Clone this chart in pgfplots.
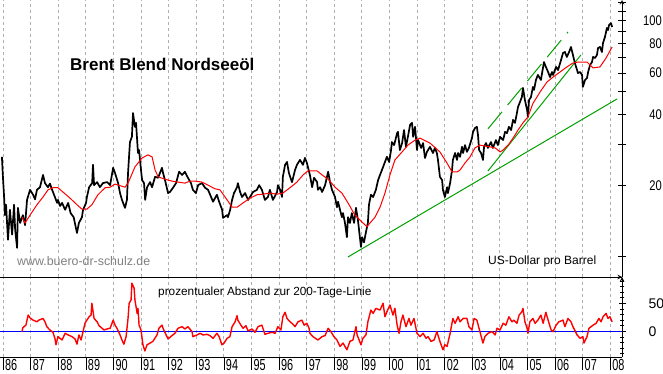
\documentclass[border=0pt]{standalone}
\usepackage{fontspec}
\setmainfont{Liberation Sans}
\usepackage{graphicx}
\usepackage{pgfplots}
\pgfplotsset{compat=1.18}
\definecolor{trendgreen}{RGB}{0,160,0}
\definecolor{gridgray}{RGB}{175,175,175}
\newcommand{\nar}[1]{\mbox{\scalebox{0.8}[1]{\fontsize{14pt}{14pt}\selectfont #1}}}
\newcommand{\nub}[1]{\mbox{\fontsize{14pt}{14pt}\selectfont #1}}
\newcommand{\xl}[1]{\mbox{\rule{0.9pt}{13pt}\hspace{1.5pt}\scalebox{0.68}[1]{\fontsize{16pt}{16pt}\selectfont #1}}}
\pgfplotsset{
  chartx/.style={scale only axis, width=622pt, xmin=1985.891, xmax=2008.428,
    xtick={1986,1987,1988,1989,1990,1991,1992,1993,1994,1995,1996,1997,1998,1999,2000,2001,2002,2003,2004,2005,2006,2007,2008},
    xmajorgrids, x grid style={gridgray, dash pattern=on 3pt off 3pt, line width=0.8pt},
    tick style={black, line width=0.8pt}, xtick style={draw=none}, tick align=outside,
    axis line style={-, line width=1pt}, anchor=south west},
}
\begin{document}
\begin{tikzpicture}
\useasboundingbox (0,0) rectangle (663pt,373pt);
\fill[white] (0,0) rectangle (663pt,373pt);
\begin{axis}[chartx, at={(0pt,96pt)}, height=277pt, ymode=log, ymin=8.2, ymax=122.4,
  axis x line=bottom, axis y line=right, xticklabels={},
  ytick={10,20,30,40,50,60,70,80,90,100,110,120},
  yticklabels={,\nar{20},,\nar{40},,\nar{60},,\nar{80},,\nar{100},,},
  minor ytick={}, major tick length=8pt,
  yticklabel style={anchor=east, inner sep=0pt, xshift=36pt}]
\addplot[trendgreen, line width=1pt, mark=none] coordinates {(1998.50,9.97) (2008.25,46.6)};
\addplot[trendgreen, line width=1pt, mark=none] coordinates {(2003.57,23.07) (2006.94,71.6)};
\addplot[trendgreen, line width=1pt, mark=none, dash pattern=on 22pt off 9pt] coordinates {(2003.57,34.8) (2006.47,89.6)};
\addplot[black, line width=1.7pt, mark=none, line join=round] coordinates {
(1985.96,26.5) (1986.00,21.5) (1986.04,17.9) (1986.07,15.0) (1986.11,16.6) (1986.18,11.8) (1986.25,15.8) (1986.33,12.4) (1986.40,16.6) (1986.44,13.0) (1986.51,10.9) (1986.54,16.1) (1986.62,13.9) (1986.72,15.0) (1986.80,13.6) (1986.87,17.4) (1986.98,19.2)
(1987.09,18.3) (1987.16,17.5) (1987.23,19.2) (1987.34,19.7) (1987.45,22.2) (1987.52,20.5) (1987.63,19.7) (1987.70,20.4) (1987.78,19.2) (1987.88,17.9) (1987.96,16.9) (1987.99,17.4)
(1988.07,16.4) (1988.14,16.9) (1988.25,15.8) (1988.36,16.9) (1988.45,15.3) (1988.56,14.7) (1988.68,12.6) (1988.75,13.9) (1988.86,14.7) (1988.90,15.8)
(1989.01,16.9) (1989.04,17.9) (1989.12,19.7) (1989.23,20.5) (1989.26,24.5) (1989.30,20.1) (1989.41,20.7) (1989.51,19.7) (1989.62,20.5) (1989.77,20.7) (1989.88,20.1)
(1989.99,23.8) (1990.06,22.6) (1990.17,20.5) (1990.24,18.6) (1990.31,17.4) (1990.42,16.1) (1990.49,17.4) (1990.53,22.6) (1990.60,30.6) (1990.67,32.2) (1990.71,40.6) (1990.78,35.5) (1990.82,36.9) (1990.89,27.5) (1990.93,28.3)
(1991.00,23.3) (1991.04,21.1) (1991.11,20.5) (1991.15,17.4) (1991.22,19.7) (1991.33,20.7) (1991.40,19.7) (1991.51,21.8) (1991.62,21.6) (1991.76,23.8) (1991.80,22.6) (1991.87,21.1) (1991.98,18.6)
(1992.05,18.8) (1992.16,19.6) (1992.27,20.5) (1992.38,22.9) (1992.49,22.2) (1992.59,22.9) (1992.70,21.6) (1992.81,20.5) (1992.88,19.2) (1992.99,18.6)
(1993.07,20.1) (1993.21,20.5) (1993.32,19.6) (1993.43,19.2) (1993.54,17.9) (1993.61,17.1) (1993.75,18.3) (1993.83,17.1) (1993.94,15.8) (1993.97,14.6)
(1994.12,15.0) (1994.15,14.7) (1994.23,15.8) (1994.30,17.4) (1994.37,18.6) (1994.48,19.7) (1994.51,20.5) (1994.59,18.8) (1994.66,17.9) (1994.77,18.6) (1994.88,17.4) (1994.95,17.9)
(1995.06,18.8) (1995.20,19.2) (1995.28,20.1) (1995.38,19.2) (1995.49,17.4) (1995.60,17.9) (1995.67,19.2) (1995.78,17.4) (1995.93,18.8) (1995.96,20.1)
(1996.04,19.2) (1996.11,17.9) (1996.14,21.8) (1996.22,24.5) (1996.29,25.2) (1996.36,22.6) (1996.47,20.7) (1996.58,23.3) (1996.65,24.5) (1996.76,25.7) (1996.87,24.5) (1996.94,26.2)
(1997.01,25.0) (1997.12,22.2) (1997.20,19.7) (1997.27,21.6) (1997.38,20.7) (1997.41,19.2) (1997.49,19.7) (1997.56,18.8) (1997.67,20.1) (1997.78,22.9) (1997.85,20.7) (1997.92,19.2)
(1998.03,17.9) (1998.10,16.2) (1998.14,17.1) (1998.21,15.8) (1998.28,14.7) (1998.32,15.3) (1998.39,13.9) (1998.46,12.1) (1998.50,14.7) (1998.57,13.9) (1998.64,15.3) (1998.72,13.9) (1998.79,16.1) (1998.86,14.3) (1998.90,13.0) (1998.97,11.0)
(1999.01,12.1) (1999.08,11.5) (1999.15,12.7) (1999.22,13.9) (1999.26,16.6) (1999.33,18.3) (1999.41,17.9) (1999.51,19.2) (1999.59,21.1) (1999.66,22.2) (1999.73,23.3) (1999.80,24.5) (1999.91,26.5) (1999.99,25.2)
(2000.06,28.3) (2000.09,30.6) (2000.17,29.7) (2000.28,33.4) (2000.31,33.8) (2000.38,28.3) (2000.46,30.3) (2000.53,34.4) (2000.60,29.2) (2000.67,32.2) (2000.75,36.2) (2000.82,36.9) (2000.86,32.2) (2000.93,35.5)
(2001.00,28.3) (2001.04,31.2) (2001.15,28.9) (2001.22,30.3) (2001.29,26.2) (2001.36,27.8) (2001.47,29.2) (2001.58,27.5) (2001.65,28.9) (2001.72,27.5) (2001.76,25.7) (2001.83,21.8) (2001.91,21.1) (2001.94,19.2)
(2002.01,17.9) (2002.09,19.7) (2002.12,18.6) (2002.20,20.5) (2002.27,23.3) (2002.30,25.7) (2002.38,27.5) (2002.45,25.7) (2002.49,27.5) (2002.56,26.5) (2002.63,29.2) (2002.67,27.5) (2002.74,29.7) (2002.81,27.8) (2002.88,28.9) (2002.99,31.8)
(2003.03,33.8) (2003.10,35.1) (2003.17,35.5) (2003.21,32.8) (2003.25,28.3) (2003.32,27.5) (2003.39,25.7) (2003.43,29.2) (2003.50,30.3) (2003.57,28.9) (2003.68,30.6) (2003.75,28.9) (2003.86,31.2) (2003.93,29.7)
(2004.01,32.2) (2004.12,31.2) (2004.19,33.8) (2004.26,33.4) (2004.33,35.5) (2004.41,34.4) (2004.48,38.0) (2004.55,36.9) (2004.62,40.6) (2004.66,43.1) (2004.73,45.2) (2004.80,47.5) (2004.84,51.9) (2004.91,46.1) (2004.99,41.8)
(2005.02,39.1) (2005.06,46.1) (2005.13,47.5) (2005.20,52.4) (2005.24,50.9) (2005.31,56.1) (2005.38,58.9) (2005.49,56.1) (2005.57,63.7) (2005.60,66.8) (2005.67,63.7) (2005.75,60.6) (2005.82,57.7) (2005.89,60.6) (2005.93,58.9)
(2006.04,63.7) (2006.11,61.8) (2006.22,68.2) (2006.29,73.0) (2006.36,73.7) (2006.43,70.2) (2006.51,73.7) (2006.58,77.4) (2006.65,71.6) (2006.72,66.2) (2006.80,61.8) (2006.83,60.0) (2006.91,60.6) (2006.98,58.9)
(2007.01,52.4) (2007.09,56.1) (2007.16,57.2) (2007.20,60.6) (2007.27,64.9) (2007.34,66.8) (2007.38,70.2) (2007.45,69.5) (2007.52,71.6) (2007.56,76.6) (2007.63,77.4) (2007.70,73.7) (2007.74,80.5) (2007.81,85.3) (2007.85,89.6) (2007.88,93.1) (2007.92,91.3) (2007.96,95.9)
(2008.03,97.7) (2008.07,94.0)
};
\addplot[red, line width=1pt, mark=none] coordinates {
(1986.69,14.7) (1986.80,13.9) (1986.98,15.0) (1987.23,16.6) (1987.45,17.9) (1987.63,19.2) (1987.81,19.6) (1987.99,19.6) (1988.17,18.8) (1988.43,17.7) (1988.68,16.6) (1988.86,15.9) (1989.04,15.9) (1989.22,16.6) (1989.44,18.3) (1989.70,19.6) (1989.88,19.7) (1990.06,20.3) (1990.42,19.7) (1990.53,20.5) (1990.78,24.0) (1991.04,26.2) (1991.25,27.0) (1991.40,26.5) (1991.51,23.3) (1991.62,21.8) (1991.87,21.3) (1992.12,20.9) (1992.34,20.7) (1992.59,20.5) (1992.78,20.9) (1992.96,20.9) (1993.21,20.7) (1993.43,20.1) (1993.68,19.4) (1993.86,19.2) (1994.12,17.4) (1994.30,16.2) (1994.48,16.2) (1994.70,16.9) (1994.95,17.7) (1995.20,18.3) (1995.42,18.4) (1995.67,18.6) (1995.93,18.4) (1996.14,18.6) (1996.40,19.6) (1996.65,20.7) (1996.87,22.2) (1997.05,23.1) (1997.38,23.1) (1997.56,22.2) (1997.78,21.3) (1998.03,19.7) (1998.28,18.6) (1998.50,16.9) (1998.75,15.0) (1999.01,14.0) (1999.19,13.4) (1999.30,13.9) (1999.48,14.7) (1999.66,16.2) (1999.84,18.6) (2000.02,22.2) (2000.20,25.7) (2000.46,27.8) (2000.67,29.7) (2000.93,31.2) (2001.11,31.8) (2001.47,30.3) (2001.83,27.8) (2002.09,24.9) (2002.27,22.85) (2002.45,22.85) (2002.56,23.3) (2002.74,24.95) (2002.92,26.45) (2003.10,28.9) (2003.28,29.7) (2003.64,29.2) (2003.83,28.9) (2004.01,27.8) (2004.12,28.3) (2004.30,29.7) (2004.48,31.8) (2004.66,34.4) (2004.84,36.9) (2005.02,39.1) (2005.20,44.6) (2005.46,49.9) (2005.71,55.0) (2005.93,57.7) (2006.18,60.6) (2006.43,63.7) (2006.65,66.2) (2006.83,66.8) (2007.16,66.8) (2007.38,63.1) (2007.63,63.7) (2007.85,69.5) (2008.07,77.4)
};
\end{axis}
\begin{axis}[chartx, at={(0pt,16pt)}, height=80pt, ymin=-45.9, ymax=97,
  axis x line=box, axis y line=right,
  xticklabels={\xl{86},\xl{87},\xl{88},\xl{89},\xl{90},\xl{91},\xl{92},\xl{93},\xl{94},\xl{95},\xl{96},\xl{97},\xl{98},\xl{99},\xl{00},\xl{01},\xl{02},\xl{03},\xl{04},\xl{05},\xl{06},\xl{07},\xl{08}},
  xticklabel style={anchor=north west, inner sep=0pt, xshift=-0.45pt, yshift=7pt},
  ytick={0,50}, yticklabels={\nub{0},\nub{50}},
  minor ytick={-40,-30,-20,-10,10,20,30,40,60,70,80,90},
  major tick length=7pt, minor tick length=4.5pt,
  yticklabel style={anchor=west, inner sep=0pt, xshift=23pt}]
\addplot[blue, line width=1.2pt, mark=none] coordinates {(1985.891,0) (2008.428,0)};
\addplot[red, line width=1.4pt, mark=none, line join=round] coordinates {
(1986.69,-0.6) (1986.72,6.5) (1986.83,11) (1986.91,29) (1986.98,24) (1987.09,20) (1987.23,17) (1987.30,20) (1987.45,23) (1987.52,17) (1987.59,8) (1987.70,2.4) (1987.81,-1.8) (1987.88,-12.5) (1987.92,-24) (1987.99,-9.5)
(1988.14,-15.5) (1988.25,-3.6) (1988.36,-6.5) (1988.50,-9.5) (1988.61,-13.7) (1988.68,-23) (1988.75,-6.5) (1988.83,-15.5) (1988.90,-0.6) (1988.97,14.3)
(1989.04,20) (1989.12,26) (1989.19,29) (1989.22,50) (1989.30,23) (1989.41,17) (1989.48,10) (1989.59,5.4) (1989.66,2.4) (1989.77,4.2) (1989.88,5.4) (1989.95,14.3) (1989.99,20)
(1990.06,11) (1990.13,5.4) (1990.24,-6.5) (1990.31,-15.5) (1990.38,-23) (1990.46,-9.5) (1990.53,23) (1990.57,50) (1990.64,56) (1990.67,86) (1990.75,77) (1990.78,56) (1990.86,32) (1990.89,41) (1990.93,11)
(1991.00,2.4) (1991.04,-12.5) (1991.07,-24) (1991.14,-35) (1991.22,-24) (1991.33,-21) (1991.43,-18) (1991.58,-6.5) (1991.65,5.4) (1991.76,11) (1991.80,5.4) (1991.91,-6.5) (1991.98,-13.7)
(1992.12,-7.7) (1992.23,-3.6) (1992.34,5.4) (1992.49,8.3) (1992.59,4.2) (1992.70,8.3) (1992.85,-0.6) (1992.88,-9.5)
(1993.03,-6.5) (1993.14,-3.6) (1993.25,-6.5) (1993.39,-5.4) (1993.50,-7.7) (1993.61,-12.5) (1993.75,-3.6) (1993.83,-9.5) (1993.93,-24)
(1994.01,-21) (1994.12,-12.5) (1994.22,-9.5) (1994.30,8.3) (1994.41,17) (1994.48,28) (1994.51,20) (1994.62,11) (1994.70,5.4) (1994.80,10) (1994.88,0.6)
(1995.02,4.2) (1995.13,-1.8) (1995.24,8.3) (1995.38,11) (1995.49,-5.4) (1995.60,-3.6) (1995.75,-1.8) (1995.86,-3.6) (1995.96,8.3)
(1996.07,2.4) (1996.14,26) (1996.22,34) (1996.29,23) (1996.40,17) (1996.51,12.5) (1996.58,8.3) (1996.69,17) (1996.83,20) (1996.91,11)
(1997.01,14.3) (1997.09,5.4) (1997.12,-3.6) (1997.23,-9.5) (1997.41,-15.5) (1997.56,-9.5) (1997.67,-7.7) (1997.78,5.4) (1997.88,-0.6) (1997.99,-9.5)
(1998.10,-15.5) (1998.21,-27) (1998.32,-21) (1998.46,-33) (1998.57,-18) (1998.68,-15.5) (1998.79,8.3) (1998.83,-6.5) (1998.97,-24)
(1999.04,-12.5) (1999.15,-6.5) (1999.22,17) (1999.33,38) (1999.41,32) (1999.51,41) (1999.66,38) (1999.77,50) (1999.84,26) (1999.91,35)
(2000.02,47) (2000.13,29) (2000.20,41) (2000.28,11) (2000.35,-3.6) (2000.42,17) (2000.49,29) (2000.60,8.3) (2000.71,23) (2000.78,11) (2000.89,23)
(2001.00,-3.6) (2001.11,-9.5) (2001.22,-3.6) (2001.33,-12.5) (2001.40,-9.5) (2001.51,-18) (2001.62,-15.5) (2001.72,-0.6) (2001.83,-18) (2001.94,-33)
(2002.01,-24) (2002.09,-27) (2002.20,-3.6) (2002.30,23) (2002.38,14.3) (2002.49,26) (2002.56,17) (2002.67,23) (2002.81,23) (2002.88,8.3) (2002.99,2.4)
(2003.07,23) (2003.17,20) (2003.28,-0.6) (2003.39,-21) (2003.46,-9.5) (2003.57,-3.6) (2003.72,-0.6) (2003.83,-6.5) (2003.90,5.4)
(2004.01,2.4) (2004.12,14.3) (2004.22,11) (2004.33,26) (2004.44,17) (2004.51,20) (2004.62,14.3) (2004.70,29) (2004.80,35) (2004.84,41) (2004.91,17) (2004.99,5.4)
(2005.02,-3.6) (2005.09,17) (2005.20,23) (2005.28,14.3) (2005.38,20) (2005.49,29) (2005.57,14.3) (2005.67,34) (2005.75,20) (2005.86,2.4) (2005.93,-0.6)
(2006.04,11) (2006.14,17) (2006.29,20) (2006.36,8.3) (2006.47,23) (2006.58,17) (2006.65,8.3) (2006.80,-6.5) (2006.91,-12.5)
(2007.01,-9.5) (2007.05,-21) (2007.16,-9.5) (2007.23,5.4) (2007.38,11) (2007.49,14.3) (2007.59,23) (2007.67,17) (2007.74,26) (2007.85,32) (2007.92,23) (2007.99,26) (2008.07,17)
};
\end{axis}
\node[anchor=base west, inner sep=0pt, font=\fontsize{17pt}{17pt}\selectfont\bfseries] at (70pt,302.3pt) {Brent Blend Nordseeöl};
\node[anchor=base west, inner sep=0pt, text=black!50, font=\fontsize{12.4pt}{12.4pt}\selectfont] at (17pt,108pt) {www.buero-dr-schulz.de};
\node[anchor=base west, inner sep=0pt, font=\fontsize{12pt}{12pt}\selectfont] at (488pt,109pt) {US-Dollar pro Barrel};
\node[anchor=base west, inner sep=0pt, font=\fontsize{11.8pt}{11.8pt}\selectfont] at (158pt,77.3pt) {prozentualer Abstand zur 200-Tage-Linie};
\end{tikzpicture}
\end{document}
